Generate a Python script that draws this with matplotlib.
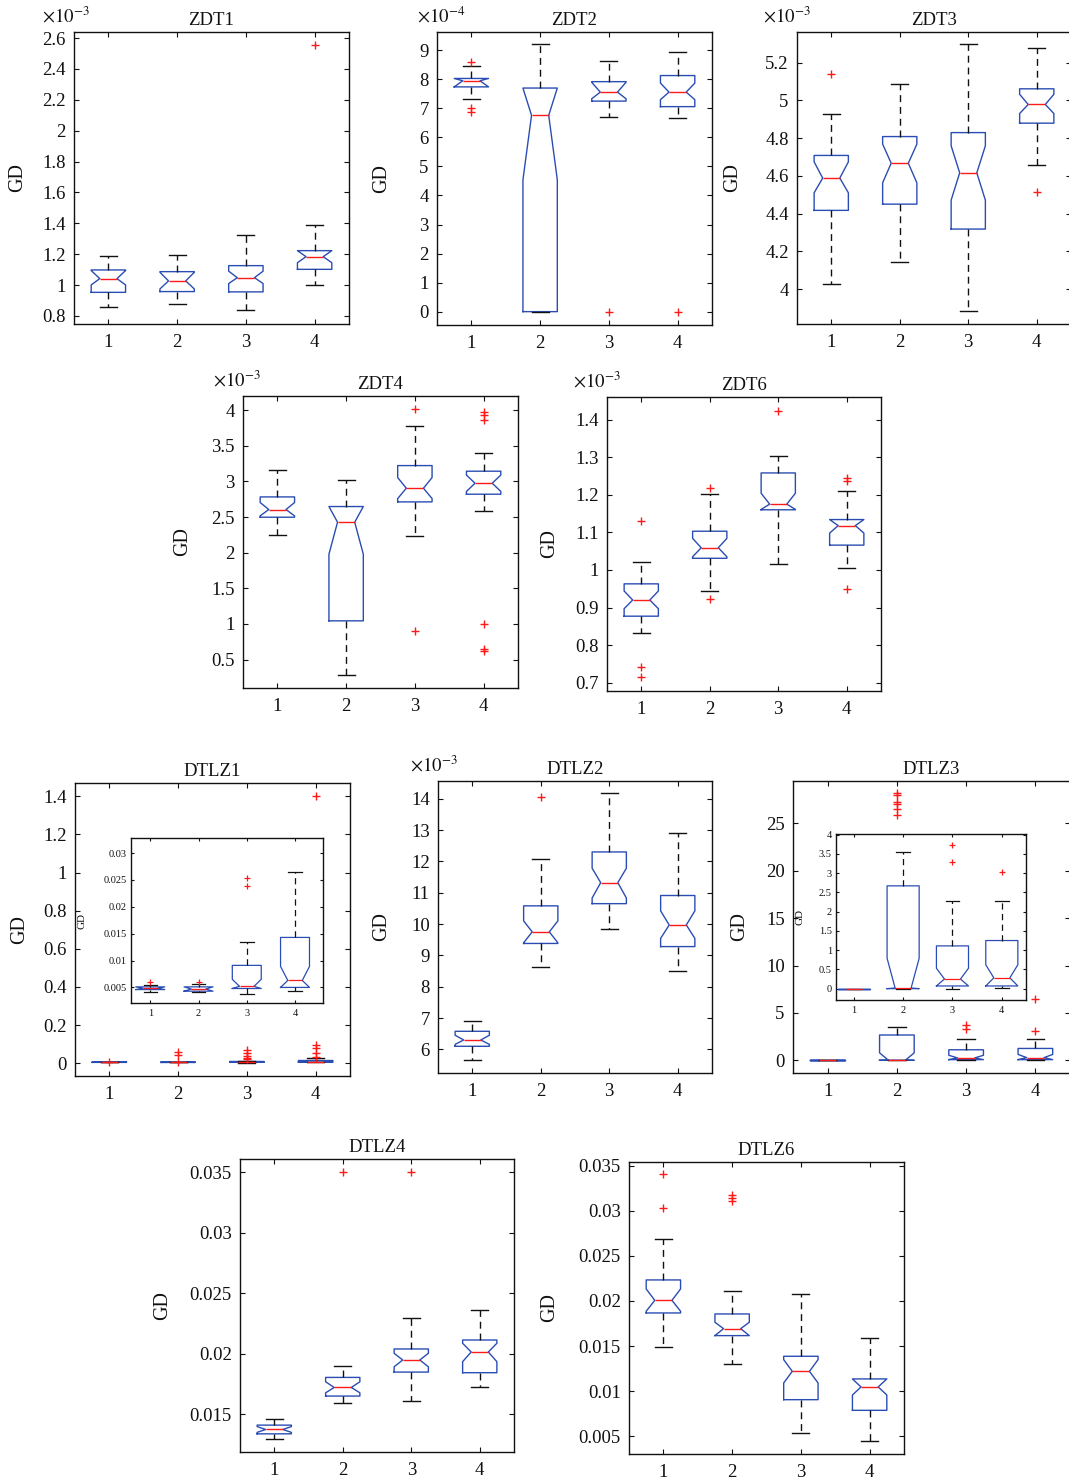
import numpy as np
import matplotlib
matplotlib.use("Agg")
import matplotlib.pyplot as plt
from matplotlib.ticker import FormatStrFormatter

W, H = 1069, 1484
BLUE = "#2a4db3"
RED = "#ff1a1a"
INK = "#111111"

plt.rcParams["font.family"] = "Liberation Serif"
plt.rcParams["mathtext.fontset"] = "stix"

# ---- box statistics ----
# order per list: algorithm 1..4
# ZDT1 (x1e-3)
zdt1_lo = [0.859, 0.880, 0.837, 1.001]
zdt1_q1 = [0.953, 0.958, 0.956, 1.102]
zdt1_med = [1.042, 1.027, 1.048, 1.184]
zdt1_q3 = [1.098, 1.087, 1.126, 1.223]
zdt1_hi = [1.188, 1.195, 1.324, 1.389]
zdt1_ci = [(1.001, 1.094), (0.975, 1.083), (1.01, 1.09), (1.145, 1.223)]
zdt1_out = [[], [], [], [2.553]]

# ZDT2 (x1e-4)
zdt2_lo = [7.33, 0.0, 6.71, 6.67]
zdt2_q1 = [7.74, 0.0, 7.25, 7.06]
zdt2_med = [7.95, 6.76, 7.56, 7.56]
zdt2_q3 = [8.03, 7.70, 7.92, 8.13]
zdt2_hi = [8.45, 9.20, 8.64, 8.93]
zdt2_ci = [(7.74, 8.03), (4.54, 7.70), (7.33, 7.90), (7.30, 7.87)]
zdt2_out = [[8.61, 7.03, 6.88], [], [0.0], [0.0]]

# ZDT3 (x1e-3)
zdt3_lo = [4.027, 4.145, 3.885, 4.658]
zdt3_q1 = [4.417, 4.450, 4.318, 4.879]
zdt3_med = [4.588, 4.667, 4.616, 4.978]
zdt3_q3 = [4.708, 4.808, 4.829, 5.061]
zdt3_hi = [4.925, 5.087, 5.297, 5.278]
zdt3_ci = [(4.510, 4.674), (4.563, 4.768), (4.471, 4.759), (4.930, 5.032)]
zdt3_out = [[5.142], [], [], [4.512]]

# ZDT4 (x1e-3)
zdt4_lo = [2.245, 0.285, 2.231, 2.582]
zdt4_q1 = [2.498, 1.043, 2.713, 2.821]
zdt4_med = [2.606, 2.428, 2.905, 2.975]
zdt4_q3 = [2.783, 2.648, 3.223, 3.144]
zdt4_hi = [3.167, 3.027, 3.780, 3.396]
zdt4_ci = [(2.517, 2.704), (1.978, 2.648), (2.76, 3.055), (2.86, 3.09)]
zdt4_out = [[], [], [4.02, 0.907], [3.98, 3.94, 3.86, 1.0, 0.65, 0.62]]

# ZDT6 (x1e-3)
zdt6_lo = [0.833, 0.944, 1.016, 1.005]
zdt6_q1 = [0.877, 1.031, 1.160, 1.066]
zdt6_med = [0.920, 1.059, 1.175, 1.118]
zdt6_q3 = [0.963, 1.103, 1.258, 1.134]
zdt6_hi = [1.020, 1.201, 1.303, 1.211]
zdt6_ci = [(0.897, 0.944), (1.035, 1.084), (1.161, 1.204), (1.098, 1.134)]
zdt6_out = [[1.130, 0.742, 0.715], [1.219, 0.924], [1.424], [1.244, 1.237, 0.950]]

# DTLZ1 (inset zoom shares the box stats)
dtlz1_lo = [0.0042, 0.0041, 0.0038, 0.0044]
dtlz1_q1 = [0.0046, 0.0043, 0.0048, 0.0050]
dtlz1_med = [0.0048, 0.0047, 0.0052, 0.0063]
dtlz1_q3 = [0.0051, 0.0051, 0.0091, 0.0143]
dtlz1_hi = [0.0055, 0.0056, 0.0134, 0.0264]
dtlz1_ci = [(0.0046, 0.0051), (0.0043, 0.0051), (0.0048, 0.0065), (0.0050, 0.0089)]
dtlz1_out = [[0.0060], [0.0061], [0.0254, 0.0238], []]
dtlz1_out_far = [[], [0.061, 0.044], [0.070, 0.052, 0.038], [1.40, 0.096, 0.079, 0.052, 0.035]]

# DTLZ2 (x1e-3)
dtlz2_lo = [5.672, 8.62, 9.83, 8.49]
dtlz2_q1 = [6.098, 9.38, 10.65, 9.28]
dtlz2_med = [6.300, 9.75, 11.32, 9.97]
dtlz2_q3 = [6.577, 10.58, 12.30, 10.91]
dtlz2_hi = [6.907, 12.06, 14.18, 12.90]
dtlz2_ci = [(6.16, 6.45), (9.40, 10.10), (10.83, 11.78), (9.54, 10.42)]
dtlz2_out = [[], [14.04], [], []]

# DTLZ3 (inset zoom shares the box stats)
dtlz3_lo = [0.0, 0.0, 0.0, 0.017]
dtlz3_q1 = [0.0, 0.0, 0.07, 0.07]
dtlz3_med = [0.0, 0.017, 0.25, 0.28]
dtlz3_q3 = [0.0, 2.67, 1.11, 1.25]
dtlz3_hi = [0.0, 3.54, 2.265, 2.265]
dtlz3_ci = [(0.0, 0.0), (0.0, 0.79), (0.07, 0.53), (0.07, 0.62)]
dtlz3_out = [[], [], [3.72, 3.28], [3.04]]
dtlz3_out_far = [[], [28.24, 27.99, 27.29, 27.04, 26.55, 25.88], [], [6.44]]

# DTLZ4
dtlz4_lo = [0.01299, 0.01597, 0.0161, 0.01729]
dtlz4_q1 = [0.0134, 0.01652, 0.0185, 0.01845]
dtlz4_med = [0.01376, 0.01723, 0.0195, 0.02016]
dtlz4_q3 = [0.01412, 0.01806, 0.02041, 0.02115]
dtlz4_hi = [0.01461, 0.0190, 0.02297, 0.02363]
dtlz4_ci = [(0.01352, 0.0140), (0.01679, 0.0177), (0.01894, 0.02005), (0.01936, 0.02088)]
dtlz4_out = [[], [0.035], [0.035], []]

# DTLZ6
dtlz6_lo = [0.01494, 0.01305, 0.00533, 0.00445]
dtlz6_q1 = [0.01867, 0.01616, 0.00906, 0.00788]
dtlz6_med = [0.02007, 0.01693, 0.0122, 0.01047]
dtlz6_q3 = [0.02233, 0.01856, 0.01387, 0.01136]
dtlz6_hi = [0.02691, 0.02107, 0.02074, 0.0159]
dtlz6_ci = [(0.01886, 0.02133), (0.01616, 0.01764), (0.01091, 0.0135), (0.00958, 0.01136)]
dtlz6_out = [[0.03408, 0.03027], [0.03171, 0.03145, 0.03112], [], []]


def stats(lo, q1, med, q3, hi, ci, out, extra=None):
    if extra is None:
        extra = [[] for _ in lo]
    return [dict(whislo=a, q1=b, med=c, q3=d, whishi=e, cilo=f[0], cihi=f[1],
                 fliers=np.array(g + x))
            for a, b, c, d, e, f, g, x in zip(lo, q1, med, q3, hi, ci, out, extra)]


fig = plt.figure(figsize=(W / 100, H / 100), dpi=100)
fig.patch.set_facecolor("white")


def panel(rect, st, ylim, yticks, title=None, expo=None, expo_dx=30, gd_dx=56,
          fs=13.5, gfs=14.5, widths=0.5, capw=0.25, xlim=(0.5, 4.5), lw=1.0, ms=5.5,
          tl=3.5, pad=6):
    l, t, r, b = rect
    ax = fig.add_axes([l / W, 1 - b / H, (r - l) / W, (b - t) / H])
    ax.bxp(st, positions=[1, 2, 3, 4], widths=widths, capwidths=capw,
           shownotches=True, showfliers=True,
           boxprops=dict(color=BLUE, lw=lw),
           medianprops=dict(color=RED, lw=lw),
           whiskerprops=dict(color=INK, lw=lw, ls=(0, (5, 3.5))),
           capprops=dict(color=INK, lw=lw),
           flierprops=dict(marker="+", markeredgecolor=RED, markersize=ms,
                           markeredgewidth=lw, linestyle="none"))
    ax.set_xlim(*xlim)
    ax.set_ylim(*ylim)
    ax.set_xticks([1, 2, 3, 4])
    ax.set_xticklabels(["1", "2", "3", "4"])
    ax.set_yticks(yticks)
    ax.yaxis.set_major_formatter(FormatStrFormatter("%g"))
    ax.tick_params(direction="in", top=True, right=True, length=tl, width=0.8,
                   labelsize=fs, colors=INK)
    ax.tick_params(axis="x", pad=pad + 1)
    ax.tick_params(axis="y", pad=pad)
    for s in ax.spines.values():
        s.set_linewidth(1.0)
        s.set_color(INK)
    ax.set_ylabel("GD", fontsize=gfs, va="center", color=INK)
    ax.yaxis.set_label_coords(-gd_dx / (r - l), 0.5)
    if title:
        ax.set_title(title, fontsize=13.5, pad=5, color=INK)
    if expo is not None:
        fig.text((l - expo_dx) / W, 1 - (t - 9) / H, r"$\times10^{%d}$" % expo,
                 ha="left", va="baseline", fontsize=13.5, color=INK)
    return ax


panel((74, 32, 349, 324), stats(zdt1_lo, zdt1_q1, zdt1_med, zdt1_q3, zdt1_hi, zdt1_ci, zdt1_out),
      (0.748, 2.639), np.arange(0.8, 2.61, 0.2), "ZDT1", -3, 32, 56)
panel((437, 32, 712, 325), stats(zdt2_lo, zdt2_q1, zdt2_med, zdt2_q3, zdt2_hi, zdt2_ci, zdt2_out),
      (-0.46, 9.63), np.arange(0, 10), "ZDT2", -4, 20, 55)
panel((797, 32, 1071, 324), stats(zdt3_lo, zdt3_q1, zdt3_med, zdt3_q3, zdt3_hi, zdt3_ci, zdt3_out),
      (3.815, 5.362), np.arange(4.0, 5.21, 0.2), "ZDT3", -3, 34, 64)
panel((243, 396, 518, 688), stats(zdt4_lo, zdt4_q1, zdt4_med, zdt4_q3, zdt4_hi, zdt4_ci, zdt4_out),
      (0.10, 4.20), np.arange(0.5, 4.01, 0.5), "ZDT4", -3, 30, 60)
panel((607, 397, 881, 691), stats(zdt6_lo, zdt6_q1, zdt6_med, zdt6_q3, zdt6_hi, zdt6_ci, zdt6_out),
      (0.678, 1.460), np.arange(0.7, 1.41, 0.1), "ZDT6", -3, 34, 57)

panel((75, 783, 350, 1076),
      stats(dtlz1_lo, dtlz1_q1, dtlz1_med, dtlz1_q3, dtlz1_hi, dtlz1_ci, dtlz1_out, dtlz1_out_far),
      (-0.067, 1.47), np.arange(0, 1.41, 0.2), "DTLZ1", None, 0, 55)
panel((131, 838, 323, 1003),
      stats(dtlz1_lo, dtlz1_q1, dtlz1_med, dtlz1_q3, dtlz1_hi, dtlz1_ci, dtlz1_out),
      (0.0021, 0.0328), np.arange(0.005, 0.0301, 0.005), None, None, 0, 49,
      fs=7.5, gfs=8, widths=0.6, capw=0.28, xlim=(0.6, 4.58), lw=0.9, ms=4, tl=2.5, pad=3)

panel((438, 781, 712, 1073),
      stats(dtlz2_lo, dtlz2_q1, dtlz2_med, dtlz2_q3, dtlz2_hi, dtlz2_ci, dtlz2_out),
      (5.246, 14.564), np.arange(6, 15), "DTLZ2", -3, 28, 56)

panel((793, 781, 1070, 1073),
      stats(dtlz3_lo, dtlz3_q1, dtlz3_med, dtlz3_q3, dtlz3_hi, dtlz3_ci, dtlz3_out, dtlz3_out_far),
      (-1.34, 29.47), np.arange(0, 26, 5), "DTLZ3", None, 0, 53)
panel((836, 834, 1026, 1000),
      stats(dtlz3_lo, dtlz3_q1, dtlz3_med, dtlz3_q3, dtlz3_hi, dtlz3_ci, dtlz3_out),
      (-0.295, 4.017), np.arange(0, 4.01, 0.5), None, None, 0, 36,
      fs=7.5, gfs=8, widths=0.65, capw=0.28, xlim=(0.64, 4.49), lw=0.9, ms=4, tl=2.5, pad=3)

panel((240, 1159, 514, 1452),
      stats(dtlz4_lo, dtlz4_q1, dtlz4_med, dtlz4_q3, dtlz4_hi, dtlz4_ci, dtlz4_out),
      (0.0119, 0.0361), np.arange(0.015, 0.0351, 0.005), "DTLZ4", None, 0, 77)
panel((629, 1162, 904, 1454),
      stats(dtlz6_lo, dtlz6_q1, dtlz6_med, dtlz6_q3, dtlz6_hi, dtlz6_ci, dtlz6_out),
      (0.00304, 0.0354), np.arange(0.005, 0.0351, 0.005), "DTLZ6", None, 0, 79)

fig.savefig("out.png", dpi=100, facecolor="white")
